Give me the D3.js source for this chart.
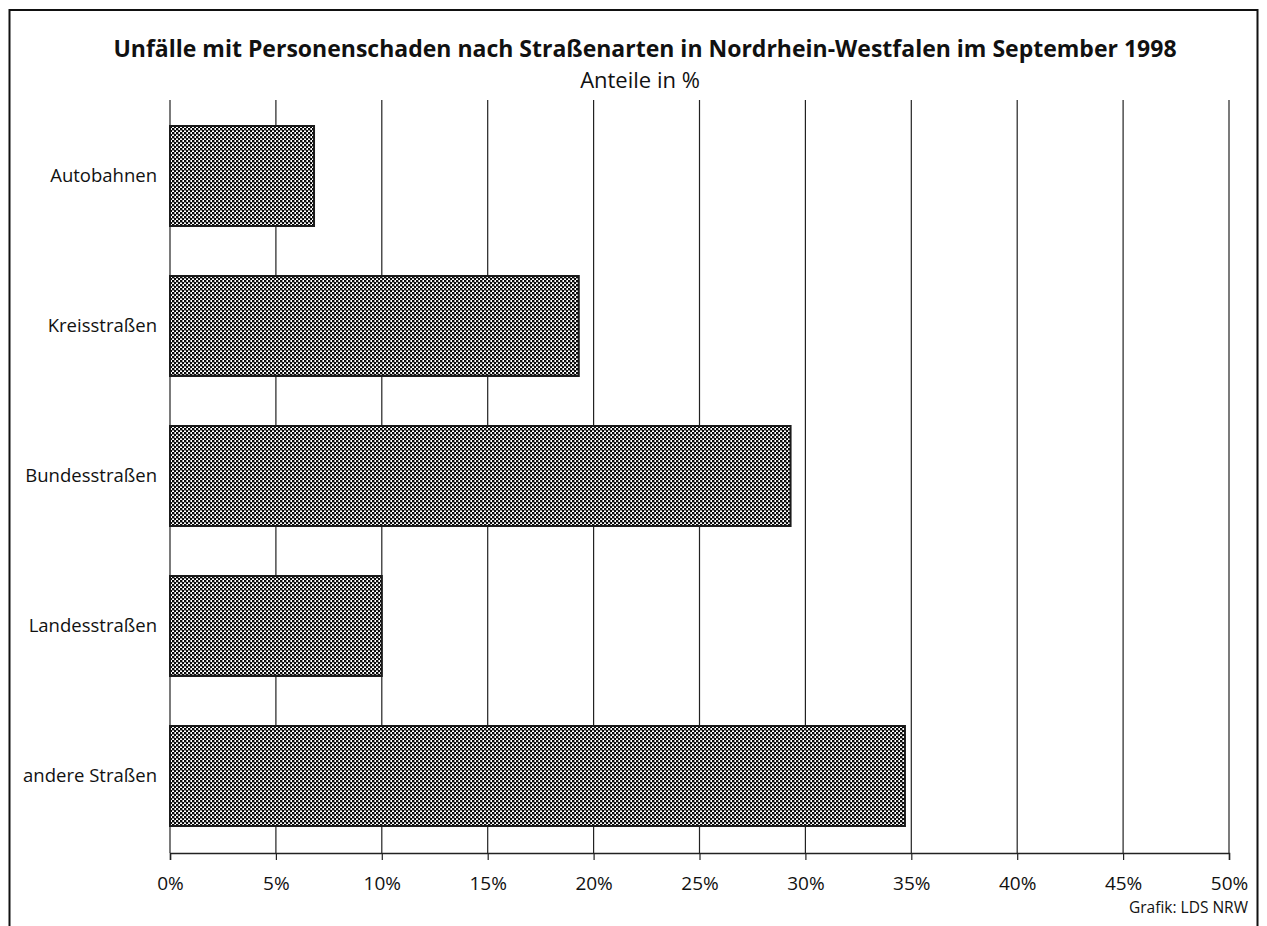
<!DOCTYPE html>
<html>
<head>
<meta charset="utf-8">
<script src="https://cdn.jsdelivr.net/npm/d3@7"></script>
<style>
body{margin:0;background:#fff}
text{font-family:"Open Sans",sans-serif;fill:#111}
</style>
</head>
<body>
<script>
const w=1267
const h=926

const categories=["Autobahnen","Kreisstraßen","Bundesstraßen","Landesstraßen","andere Straßen"]
const values=[6.8,19.3,29.3,10.0,34.7]
const ticks=[0,5,10,15,20,25,30,35,40,45,50]

const x=d3.scaleLinear()
    .domain([0,50])
    .range([170,1229])

const y=d3.scaleBand()
    .domain(categories)
    .range([101,851])
    .paddingInner(1/3)
    .paddingOuter(1/6)

const svg=d3.create("svg")
    .attr("width",w)
    .attr("height",h)

//checker pattern for bars
const pat=svg.append("defs").append("pattern")
    .attr("id","chk")
    .attr("width",4)
    .attr("height",4)
    .attr("patternUnits","userSpaceOnUse")
pat.append("rect").attr("width",4).attr("height",4).attr("fill","#fff")
pat.append("rect").attr("width",2.4).attr("height",2.4).attr("fill","#0a0a0a")
pat.append("rect").attr("x",2).attr("y",2).attr("width",2.4).attr("height",2.4).attr("fill","#0a0a0a")

//frame
svg.append("path")
    .attr("d",`M9.5,${h} V10 H1257.5 V${h}`)
    .attr("fill","none")
    .attr("stroke","#111")
    .attr("stroke-width",2)

//title
svg.append("text")
    .attr("x",645)
    .attr("y",57)
    .attr("text-anchor","middle")
    .style("font-weight","bold")
    .style("font-size","23px")
    .text("Unfälle mit Personenschaden nach Straßenarten in Nordrhein-Westfalen im September 1998")

svg.append("text")
    .attr("x",640)
    .attr("y",88)
    .attr("text-anchor","middle")
    .style("font-size","22px")
    .text("Anteile in %")

//grid lines
svg.append("g")
    .selectAll("line")
    .data(ticks)
    .enter()
    .append("line")
    .attr("x1",d=>x(d))
    .attr("x2",d=>x(d))
    .attr("y1",100)
    .attr("y2",853)
    .attr("stroke","#222")
    .attr("stroke-width",1.2)

//x axis
const ax=svg.append("g")
    .attr("transform","translate(0,853)")
    .call(d3.axisBottom(x).tickValues(ticks).tickSize(7).tickPadding(17).tickFormat(d=>d+"%"))
ax.select(".domain").attr("stroke","#222").attr("stroke-width",1.5)
ax.selectAll(".tick line").attr("stroke","#222").attr("stroke-width",1.2)
ax.selectAll("text")
    .style("font-family","'Open Sans',sans-serif")
    .style("font-size","19px")
    .attr("fill","#111")

//bars
svg.selectAll(".bar")
    .data(values)
    .enter()
    .append("rect")
    .attr("class","bar")
    .attr("x",x(0))
    .attr("y",(d,i)=>y(categories[i]))
    .attr("width",d=>x(d)-x(0))
    .attr("height",y.bandwidth())
    .attr("fill","url(#chk)")
    .attr("stroke","#1a1a1a")
    .attr("stroke-width",2)

//category labels
svg.selectAll(".cat")
    .data(categories)
    .enter()
    .append("text")
    .attr("class","cat")
    .attr("x",157)
    .attr("y",d=>y(d)+y.bandwidth()/2)
    .attr("dy","0.35em")
    .attr("text-anchor","end")
    .style("font-size","18.5px")
    .text(d=>d)

svg.append("text")
    .attr("x",1248)
    .attr("y",913)
    .attr("text-anchor","end")
    .style("font-size","15.5px")
    .text("Grafik: LDS NRW")

d3.select("body")
    .append(()=>svg.node())
</script>
</body>
</html>
